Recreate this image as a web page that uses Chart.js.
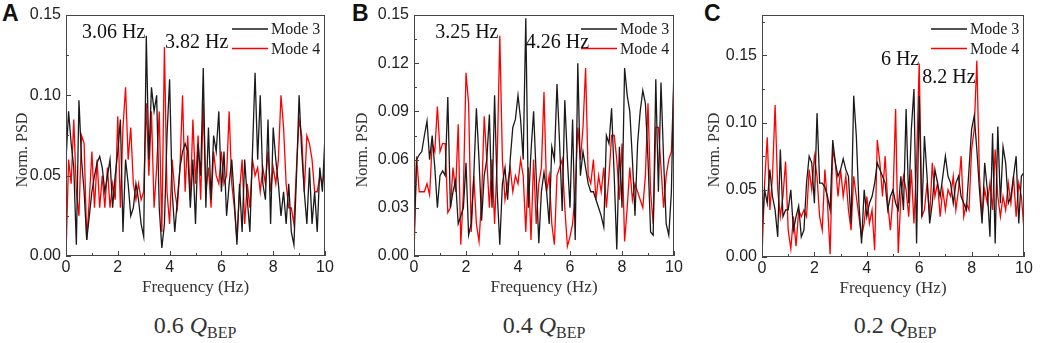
<!DOCTYPE html>
<html>
<head>
<meta charset="UTF-8">
<title>Norm. PSD</title>
<script src="https://cdn.jsdelivr.net/npm/chart.js"></script>
<style>
  body { margin: 0; background: #fff; width: 1045px; height: 343px; position: relative; overflow: hidden; }
  canvas { position: absolute; top: 0; }
  .letter { position: absolute; top: 2px; font: bold 23px "Liberation Sans", Arial, sans-serif; color: #111; line-height: 23px; }
  .sub { position: absolute; top: 325px; transform: translate(-50%, -50%); font: 24px "Liberation Serif", "Times New Roman", serif; color: #333; white-space: nowrap; }
  .sub span { font-size: 16px; position: relative; top: 5px; }
</style>
</head>
<body>
<div class="letter" style="left:2px">A</div>
<div class="letter" style="left:352px">B</div>
<div class="letter" style="left:704px">C</div>
<canvas id="chartA"></canvas>
<canvas id="chartB"></canvas>
<canvas id="chartC"></canvas>
<div class="sub" style="left:195px">0.6 <i>Q</i><span>BEP</span></div>
<div class="sub" style="left:544px">0.4 <i>Q</i><span>BEP</span></div>
<div class="sub" style="left:895px">0.2 <i>Q</i><span>BEP</span></div>

<script>
// frequency axis (Hz)
const freqs = [0,0.1,0.2,0.3,0.4,0.5,0.6,0.7,0.8,0.9,
  1,1.1,1.2,1.3,1.4,1.5,1.6,1.7,1.8,1.9,
  2,2.1,2.2,2.3,2.4,2.5,2.6,2.7,2.8,2.9,
  3,3.1,3.2,3.3,3.4,3.5,3.6,3.7,3.8,3.9,
  4,4.1,4.2,4.3,4.4,4.5,4.6,4.7,4.8,4.9,
  5,5.1,5.2,5.3,5.4,5.5,5.6,5.7,5.8,5.9,
  6,6.1,6.2,6.3,6.4,6.5,6.6,6.7,6.8,6.9,
  7,7.1,7.2,7.3,7.4,7.5,7.6,7.7,7.8,7.9,
  8,8.1,8.2,8.3,8.4,8.5,8.6,8.7,8.8,8.9,
  9,9.1,9.2,9.3,9.4,9.5,9.6,9.7,9.8,9.9,10];

const seriesNames = ['Mode 3', 'Mode 4'];

// 0.6 Q_BEP
const mode3A = [0.06,0.09,0.07,0.055,0.007,0.097,0.06,0.04,0.01,0.025,
  0.04,0.05,0.058,0.062,0.055,0.04,0.05,0.06,0.03,0.05,
  0.065,0.085,0.015,0.06,0.045,0.025,0.03,0.045,0.035,0.02,
  0.012,0.137,0.06,0.105,0.09,0.1,0.03,0.005,0.02,0.075,
  0.11,0.04,0.015,0.035,0.055,0.065,0.07,0.065,0.03,0.06,
  0.02,0.07,0.05,0.117,0.03,0.08,0.035,0.075,0.065,0.09,
  0.04,0.065,0.025,0.045,0.06,0.035,0.007,0.045,0.015,0.06,
  0.035,0.015,0.065,0.114,0.06,0.1,0.045,0.035,0.085,0.02,
  0.08,0.06,0.045,0.025,0.04,0.02,0.045,0.015,0.007,0.05,
  0.1,0.065,0.04,0.02,0.055,0.02,0.04,0.015,0.055,0.04,0.075];
const mode4A = [0,0.06,0.045,0.085,0.04,0.025,0.075,0.07,0.01,0.035,
  0.065,0.03,0.06,0.03,0.05,0.03,0.055,0.03,0.045,0.035,
  0.087,0.03,0.08,0.105,0.06,0.08,0.045,0.035,0.045,0.035,
  0.04,0.095,0.05,0.09,0.03,0.055,0.09,0.015,0.13,0.04,
  0.02,0.06,0.04,0.03,0.055,0.1,0.04,0.075,0.035,0.085,
  0.045,0.075,0.035,0.095,0.04,0.055,0.03,0.065,0.05,0.045,
  0.065,0.045,0.05,0.09,0.045,0.03,0.01,0.04,0.06,0.02,
  0.045,0.03,0.06,0.05,0.055,0.04,0.055,0.045,0.065,0.04,
  0.055,0.045,0.06,0.1,0.08,0.045,0.03,0.03,0.02,0.055,
  0.085,0.075,0.04,0.075,0.07,0.06,0.04,0.04,0.05,0.045,0.055];

// 0.4 Q_BEP
const mode3B = [0.01,0.06,0.063,0.065,0.075,0.084,0.06,0.075,0.055,0.03,
  0.05,0.053,0.05,0.099,0.03,0.04,0.047,0.02,0.025,0.03,
  0.058,0.013,0.02,0.05,0.092,0.06,0.022,0.05,0.06,0.088,
  0.03,0.1,0.04,0.007,0.045,0.055,0.035,0.06,0.08,0.085,
  0.1,0.085,0.06,0.148,0.03,0.065,0.09,0.05,0.008,0.04,
  0.052,0.04,0.02,0.068,0.06,0.107,0.07,0.028,0.097,0.06,
  0.03,0.085,0.01,0.12,0.05,0.065,0.055,0.045,0.04,0.04,
  0.035,0.03,0.025,0.018,0.075,0.07,0.092,0.05,0.004,0.068,
  0.03,0.117,0.1,0.09,0.06,0.025,0.07,0.09,0.103,0.095,
  0.06,0.015,0.013,0.11,0.04,0.108,0.06,0.02,0.013,0.04,0.12];
const mode4B = [0,0.062,0.04,0.04,0.04,0.045,0.038,0.07,0.065,0.093,
  0.065,0.07,0.07,0.027,0.03,0.055,0.04,0.082,0.007,0.04,
  0.114,0.095,0.015,0.05,0.02,0.009,0.035,0.087,0.06,0.03,
  0.06,0.02,0.06,0.137,0.06,0.035,0.045,0.055,0.04,0.05,
  0.045,0.06,0.05,0.015,0.055,0.01,0.06,0.02,0.045,0.055,
  0.102,0.04,0.05,0.02,0.007,0.05,0.055,0.06,0.03,0.006,
  0.012,0.02,0.04,0.08,0.06,0.08,0.117,0.05,0.045,0.06,
  0.035,0.05,0.04,0.055,0.03,0.05,0.075,0.075,0.06,0.035,
  0.07,0.009,0.03,0.055,0.035,0.045,0.04,0.035,0.03,0.05,
  0.095,0.04,0.02,0.08,0.08,0.055,0.03,0.05,0.06,0.065,0.11];

// 0.2 Q_BEP
const mode3C = [0.02,0.05,0.04,0.065,0.045,0.035,0.015,0.08,0.03,0.035,
  0.035,0.05,0.02,0.03,0.038,0.015,0.02,0.055,0.075,0.07,
  0.04,0.107,0.055,0.055,0.052,0.045,0.035,0.087,0.07,0.06,
  0.065,0.073,0.065,0.06,0.025,0.12,0.09,0.04,0.01,0.05,
  0.03,0.04,0.045,0.055,0.07,0.065,0.06,0.055,0.035,0.045,
  0.05,0.04,0.035,0.06,0.035,0.11,0.04,0.095,0.125,0.01,
  0.12,0.03,0.09,0.06,0.025,0.04,0.065,0.055,0.045,0.06,
  0.075,0.06,0.055,0.04,0.055,0.06,0.045,0.04,0.035,0.065,
  0.095,0.105,0.08,0.05,0.025,0.07,0.05,0.015,0.092,0.01,
  0.097,0.04,0.082,0.07,0.04,0.045,0.06,0.075,0.025,0.06,0.063];
const mode4C = [0,0.055,0.089,0.035,0.06,0.113,0.05,0.03,0.045,0.071,
  0.02,0.006,0.03,0.008,0.035,0.03,0.035,0.03,0.065,0.05,
  0.075,0.06,0.03,0.02,0.065,0.04,0.002,0.08,0.07,0.045,
  0.065,0.045,0.06,0.035,0.02,0.06,0.045,0.03,0.015,0.025,
  0.045,0.025,0.035,0.005,0.087,0.07,0.045,0.075,0.04,0.02,
  0.045,0.11,0.003,0.045,0.06,0.05,0.03,0.065,0.025,0.07,
  0.144,0.03,0.035,0.055,0.03,0.07,0.045,0.055,0.03,0.05,
  0.035,0.05,0.045,0.06,0.035,0.05,0.075,0.03,0.04,0.035,
  0.08,0.095,0.146,0.06,0.03,0.05,0.04,0.055,0.035,0.08,
  0.045,0.03,0.045,0.035,0.055,0.04,0.06,0.03,0.055,0.045,0.02];

// y tick values per panel
const yTicksA = [0, 0.05, 0.10, 0.15];
const yTicksB = [0, 0.03, 0.06, 0.09, 0.12, 0.15];
const yTicksC = [0, 0.05, 0.10, 0.15];
const xTicks = [0, 2, 4, 6, 8, 10];

const sansFont = '"Liberation Sans", Arial, sans-serif';
const serifFont = '"Liberation Serif", "Times New Roman", serif';

const panels = [
  { id: 'chartA', left: 9,   yWidth: 57, right: 325, bottom: 256, yMax: 0.15, yTicks: yTicksA, minor: 0.025, titleDx: 43,
    m3: mode3A, m4: mode4A,
    notes: [ { text: '3.06 Hz', hz: 3.06, y: 33, align: 'right' }, { text: '3.82 Hz', hz: 3.82, y: 43, align: 'left' } ] },
  { id: 'chartB', left: 349, yWidth: 65, right: 674, bottom: 256, yMax: 0.15, yTicks: yTicksB, minor: 0.015, titleDx: 51,
    m3: mode3B, m4: mode4B,
    notes: [ { text: '3.25 Hz', hz: 3.25, y: 33, align: 'right' }, { text: '4.26 Hz', hz: 4.3, y: 43, align: 'left' } ] },
  { id: 'chartC', left: 701, yWidth: 61, right: 1024, bottom: 257, yMax: 0.18, yTicks: yTicksC, minor: 0.025, titleDx: 47,
    m3: mode3C, m4: mode4C,
    notes: [ { text: '6 Hz', hz: 6, y: 60, align: 'right' }, { text: '8.2 Hz', hz: 8.15, y: 78, align: 'right' } ] }
];

// frame, inward ticks, y title, legend and peak labels
const decorPlugin = {
  id: 'decor',
  afterDraw(chart, args, opts) {
    const ctx = chart.ctx;
    const a = chart.chartArea;
    const xs = chart.scales.x, ys = chart.scales.y;
    ctx.save();
    ctx.strokeStyle = '#444';
    ctx.lineWidth = 1;
    ctx.strokeRect(a.left + 0.5, a.top + 0.5, a.right - a.left - 1, a.bottom - a.top - 1);

    ctx.beginPath();
    for (let v = 0; v <= 10; v++) {
      const px = Math.round(xs.getPixelForValue(v)) + 0.5;
      const len = v % 2 === 0 ? 5 : 3;
      ctx.moveTo(px, a.bottom);
      ctx.lineTo(px, a.bottom - len);
    }
    for (let i = 0; i * opts.minor <= opts.yMax + 1e-9; i++) {
      const v = i * opts.minor;
      const py = Math.round(ys.getPixelForValue(v)) + 0.5;
      const len = i % 2 === 0 ? 5 : 3;
      ctx.moveTo(a.left, py);
      ctx.lineTo(a.left + len, py);
    }
    ctx.stroke();

    // y axis title, sits a little below the middle of the axis
    ctx.save();
    ctx.translate(a.left - opts.titleDx, 150);
    ctx.rotate(-Math.PI / 2);
    ctx.font = '16px ' + serifFont;
    ctx.fillStyle = '#333';
    ctx.textAlign = 'center';
    ctx.textBaseline = 'middle';
    ctx.fillText('Norm. PSD', 0, 0);
    ctx.restore();

    // legend
    ctx.font = '16px ' + serifFont;
    ctx.textBaseline = 'middle';
    ctx.textAlign = 'left';
    chart.data.datasets.forEach((ds, i) => {
      const y = a.top + 14 + i * 19.5;
      ctx.strokeStyle = ds.borderColor;
      ctx.lineWidth = 1.3;
      ctx.beginPath();
      ctx.moveTo(a.right - 93, y);
      ctx.lineTo(a.right - 57, y);
      ctx.stroke();
      ctx.fillStyle = '#222';
      ctx.fillText(ds.label, a.right - 54, y + 1);
    });

    // peak labels
    ctx.font = '20px ' + serifFont;
    ctx.fillStyle = '#111';
    opts.notes.forEach(n => {
      ctx.textAlign = n.align;
      ctx.fillText(n.text, xs.getPixelForValue(n.hz), n.y);
    });
    ctx.restore();
  }
};

panels.forEach(p => {
  const canvas = document.getElementById(p.id);
  const w = p.right - p.left + 12;
  const h = p.bottom + 45;
  canvas.width = w;
  canvas.height = h;
  canvas.style.left = p.left + 'px';
  canvas.style.width = w + 'px';
  canvas.style.height = h + 'px';

  const toXY = arr => arr.map((v, i) => ({ x: freqs[i], y: v }));

  new Chart(canvas, {
    type: 'line',
    data: {
      datasets: [
        { label: seriesNames[0], data: toXY(p.m3), borderColor: '#1a1a1a', borderWidth: 1.3, pointRadius: 0, tension: 0, fill: false },
        { label: seriesNames[1], data: toXY(p.m4), borderColor: '#ff0000', borderWidth: 1.3, pointRadius: 0, tension: 0, fill: false }
      ]
    },
    options: {
      responsive: false,
      animation: false,
      devicePixelRatio: 1,
      layout: { padding: { top: 15, right: 12, left: 0, bottom: 0 } },
      plugins: {
        legend: { display: false },
        tooltip: { enabled: false },
        decor: { minor: p.minor, yMax: p.yMax, notes: p.notes, titleDx: p.titleDx }
      },
      scales: {
        x: {
          type: 'linear',
          min: 0, max: 10,
          afterBuildTicks: s => { s.ticks = xTicks.map(v => ({ value: v })); },
          afterFit: s => { s.height = 45; },
          grid: { display: false, drawTicks: false },
          border: { display: false },
          ticks: { padding: 2, color: '#222', font: { family: sansFont, size: 16 }, maxRotation: 0 },
          title: { display: true, text: 'Frequency (Hz)', color: '#333', font: { family: serifFont, size: 17 }, padding: { top: 4, bottom: 3 } }
        },
        y: {
          min: 0, max: p.yMax,
          afterBuildTicks: s => { s.ticks = p.yTicks.map(v => ({ value: v })); },
          afterFit: s => { s.width = p.yWidth; },
          grid: { display: false, drawTicks: false },
          border: { display: false },
          ticks: { padding: 5, color: '#222', font: { family: sansFont, size: 16 }, callback: v => v.toFixed(2) }
        }
      }
    },
    plugins: [decorPlugin]
  });
});
</script>
</body>
</html>
